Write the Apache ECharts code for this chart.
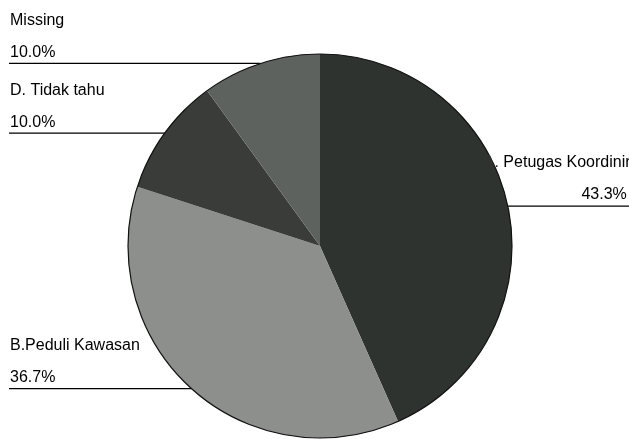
<!DOCTYPE html>
<html>
<head>
<meta charset="utf-8">
<script src="https://cdn.jsdelivr.net/npm/echarts@6/dist/echarts.min.js"></script>
<style>html,body{margin:0;padding:0;background:#fff}#c{width:629px;height:439px}</style>
</head>
<body>
<div id="c"></div>
<script>
var categories = ['A. Petugas Koordinir', 'B.Peduli Kawasan', 'D. Tidak tahu', 'Missing'];
var values = [13, 11, 3, 3];
var colors = ['#2f332f', '#8c8f8c', '#393c39', '#5e625e'];

var FONT = 'Liberation Sans, Arial, sans-serif';
var chart = echarts.init(document.getElementById('c'));
var W = chart.getWidth();
var total = values.reduce(function (a, b) { return a + b; }, 0);
function isRight(i) {
  var before = 0;
  for (var k = 0; k < i; k++) before += values[k];
  return (before + values[i] / 2) / total < 0.5;
}
var data = categories.map(function (n, i) {
  var item = { name: n, value: values[i], itemStyle: { color: colors[i] } };
  if (isRight(i)) item.label = { width: 143 };
  return item;
});
chart.setOption({
  animation: false,
  series: [{
    type: 'pie',
    center: [320, 246],
    radius: 192,
    startAngle: 90,
    clockwise: true,
    data: data,
    emphasis: { disabled: true },
    label: {
      show: true,
      position: 'outer',
      overflow: 'none',
      color: '#000',
      fontFamily: FONT,
      fontSize: 16,
      lineHeight: 32,
      formatter: function (p) {
        var pct = p.percent.toFixed(1) + '%';
        if (isRight(p.dataIndex)) {
          var m = p.name.match(/^([A-Z]\.\s*)(.*)$/);
          var pre = m ? m[1] : '';
          var rest = m ? m[2] : p.name;
          return '{h' + p.dataIndex + '|' + pre + '}{n|' + rest + '}\n{r|' + pct + '}';
        }
        return '{n|' + p.name + '}\n{v|' + pct + '}';
      },
      rich: {
        n: { fontSize: 16, lineHeight: 32, color: '#000', fontFamily: FONT },
        v: { fontSize: 16, lineHeight: 32, color: '#000', fontFamily: FONT },
        r: { fontSize: 16, lineHeight: 32, color: '#000', fontFamily: FONT, align: 'right' },
        h0: { fontSize: 16, lineHeight: 32, color: colors[0], fontFamily: FONT }
      }
    },
    labelLine: {
      show: true,
      length: 0,
      length2: 10,
      smooth: false,
      lineStyle: { color: '#000', width: 1.2 }
    },
    labelLayout: function (p) {
      var s = p.labelLinePoints[0];
      if (!isRight(p.dataIndex)) {
        return {
          x: 10, y: s[1] + 5, align: 'left', verticalAlign: 'bottom',
          labelLinePoints: [[s[0], s[1]], [s[0], s[1]], [9, s[1]]]
        };
      }
      return {
        x: s[0] - 24, y: s[1] + 5, align: 'left', verticalAlign: 'bottom',
        labelLinePoints: [[s[0], s[1]], [s[0], s[1]], [W, s[1]]]
      };
    }
  }, {
    type: 'pie',
    center: [320, 246],
    radius: 192,
    silent: true,
    label: { show: false },
    labelLine: { show: false },
    data: [{ value: 1, itemStyle: { color: 'rgba(0,0,0,0)', borderColor: '#111', borderWidth: 1.2 } }]
  }]
});
</script>
</body>
</html>
